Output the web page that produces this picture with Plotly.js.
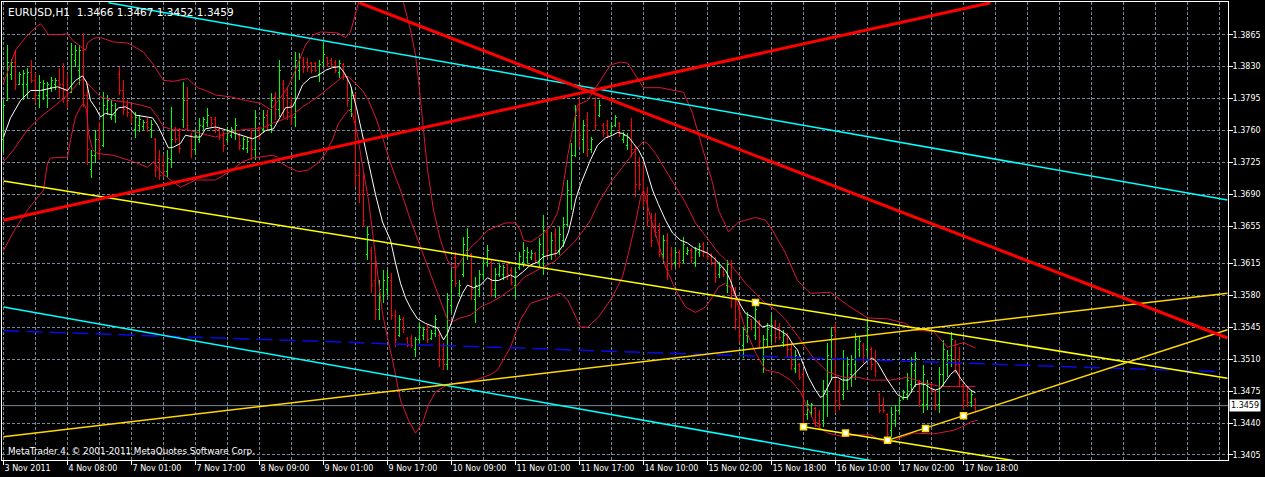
<!DOCTYPE html>
<html><head><meta charset="utf-8">
<script src="https://cdn.plot.ly/plotly-3.0.1.min.js"></script>
<style>html,body{margin:0;padding:0;background:#000;}#chart{width:1265px;height:477px;}
.trace.ohlc path{shape-rendering:crispEdges;}
</style>
</head><body><div id="chart"></div>
<script>
const symbol = 'EURUSD';
const timeframe = 'H1';
const copyright = 'MetaTrader 4, \u00a9 2001-2011 MetaQuotes Software Corp.';
const timeLabels = ['3 Nov 2011','4 Nov 08:00','7 Nov 01:00','7 Nov 17:00','8 Nov 09:00','9 Nov 01:00','9 Nov 17:00','10 Nov 09:00','11 Nov 01:00','11 Nov 17:00','14 Nov 10:00','15 Nov 02:00','15 Nov 18:00','16 Nov 10:00','17 Nov 02:00','17 Nov 18:00'];
const priceTicks = [1.3865,1.3830,1.3795,1.3760,1.3725,1.3690,1.3655,1.3615,1.3580,1.3545,1.3510,1.3475,1.3440,1.3405];

const opens = [1.3750,1.3793,1.3821,1.3835,1.3810,1.3810,1.3810,1.3824,1.3815,1.3799,1.3804,1.3799,1.3807,1.3810,1.3815,1.3810,1.3804,1.3802,1.3837,1.3826,
1.3848,1.3799,1.3717,1.3733,1.3750,1.3744,1.3783,1.3774,1.3777,1.3821,1.3804,1.3788,1.3783,1.3761,1.3766,1.3764,1.3769,1.3761,1.3750,1.3728,
1.3722,1.3715,1.3728,1.3761,1.3755,1.3772,1.3793,1.3755,1.3739,1.3750,1.3764,1.3769,1.3774,1.3772,1.3761,1.3755,1.3750,1.3755,1.3757,1.3755,
1.3741,1.3741,1.3752,1.3739,1.3763,1.3761,1.3777,1.3766,1.3796,1.3783,1.3810,1.3799,1.3788,1.3774,1.3826,1.3837,1.3835,1.3833,1.3833,1.3821,
1.3835,1.3840,1.3837,1.3835,1.3824,1.3832,1.3818,1.3783,1.3799,1.3711,1.3695,1.3624,1.3629,1.3596,1.3564,1.3580,1.3586,1.3596,1.3558,1.3536,
1.3553,1.3533,1.3533,1.3520,1.3531,1.3536,1.3542,1.3533,1.3538,1.3536,1.3520,1.3504,1.3569,1.3621,1.3582,1.3602,1.3629,1.3624,1.3575,1.3586,
1.3602,1.3616,1.3616,1.3586,1.3602,1.3602,1.3613,1.3607,1.3591,1.3610,1.3616,1.3621,1.3621,1.3625,1.3616,1.3624,1.3649,1.3624,1.3646,1.3629,
1.3640,1.3657,1.3690,1.3733,1.3783,1.3750,1.3772,1.3739,1.3788,1.3777,1.3766,1.3766,1.3757,1.3766,1.3768,1.3750,1.3744,1.3766,1.3739,1.3722,
1.3706,1.3690,1.3664,1.3662,1.3651,1.3624,1.3640,1.3624,1.3616,1.3627,1.3618,1.3626,1.3629,1.3616,1.3627,1.3635,1.3627,1.3624,1.3616,1.3602,
1.3610,1.3591,1.3613,1.3580,1.3564,1.3525,1.3536,1.3553,1.3536,1.3551,1.3509,1.3531,1.3536,1.3547,1.3542,1.3528,1.3536,1.3520,1.3500,1.3504,
1.3493,1.3449,1.3452,1.3456,1.3449,1.3443,1.3471,1.3509,1.3542,1.3476,1.3471,1.3487,1.3493,1.3504,1.3520,1.3525,1.3520,1.3520,1.3509,1.3471,
1.3460,1.3449,1.3432,1.3443,1.3454,1.3467,1.3471,1.3482,1.3498,1.3484,1.3460,1.3460,1.3482,1.3474,1.3460,1.3493,1.3504,1.3514,1.3525,1.3504,
1.3482,1.3471,1.3462,1.3466];
const highs = [1.3793,1.3854,1.3838,1.3848,1.3824,1.3826,1.3829,1.3837,1.3823,1.3821,1.3815,1.3813,1.3819,1.3818,1.3829,1.3834,1.3823,1.3856,1.3854,1.3854,
1.3867,1.3812,1.3739,1.3761,1.3769,1.3802,1.3799,1.3793,1.3790,1.3830,1.3815,1.3793,1.3788,1.3780,1.3777,1.3772,1.3774,1.3772,1.3752,1.3739,
1.3733,1.3739,1.3786,1.3764,1.3763,1.3813,1.3808,1.3757,1.3761,1.3774,1.3775,1.3785,1.3775,1.3775,1.3764,1.3761,1.3764,1.3764,1.3774,1.3757,
1.3753,1.3753,1.3761,1.3783,1.3764,1.3783,1.3783,1.3801,1.3802,1.3837,1.3815,1.3808,1.3797,1.3846,1.3845,1.3841,1.3840,1.3835,1.3835,1.3837,
1.3857,1.3841,1.3840,1.3837,1.3837,1.3834,1.3819,1.3808,1.3801,1.3725,1.3714,1.3655,1.3633,1.3622,1.3596,1.3607,1.3607,1.3604,1.3564,1.3558,
1.3556,1.3534,1.3536,1.3534,1.3549,1.3545,1.3547,1.3542,1.3558,1.3538,1.3528,1.3582,1.3607,1.3627,1.3596,1.3644,1.3653,1.3626,1.3600,1.3607,
1.3621,1.3635,1.3618,1.3610,1.3615,1.3613,1.3616,1.3611,1.3611,1.3627,1.3638,1.3633,1.3629,1.3627,1.3643,1.3668,1.3655,1.3649,1.3653,1.3655,
1.3665,1.3706,1.3746,1.3788,1.3796,1.3772,1.3780,1.3753,1.3797,1.3793,1.3768,1.3772,1.3768,1.3777,1.3769,1.3758,1.3757,1.3774,1.3742,1.3731,
1.3725,1.3698,1.3670,1.3670,1.3659,1.3646,1.3648,1.3633,1.3633,1.3629,1.3644,1.3633,1.3632,1.3633,1.3637,1.3638,1.3629,1.3626,1.3622,1.3616,
1.3611,1.3618,1.3618,1.3589,1.3578,1.3545,1.3561,1.3553,1.3572,1.3553,1.3536,1.3549,1.3558,1.3553,1.3549,1.3542,1.3538,1.3528,1.3520,1.3506,
1.3498,1.3465,1.3462,1.3457,1.3454,1.3487,1.3528,1.3545,1.3549,1.3487,1.3520,1.3512,1.3514,1.3538,1.3534,1.3528,1.3553,1.3523,1.3520,1.3473,
1.3468,1.3451,1.3457,1.3460,1.3468,1.3476,1.3495,1.3512,1.3518,1.3487,1.3504,1.3487,1.3484,1.3476,1.3501,1.3531,1.3520,1.3540,1.3531,1.3523,
1.3484,1.3479,1.3476,1.3467];
const lows = [1.3737,1.3793,1.3815,1.3804,1.3810,1.3793,1.3796,1.3812,1.3790,1.3785,1.3793,1.3785,1.3802,1.3804,1.3796,1.3790,1.3785,1.3802,1.3830,1.3810,
1.3786,1.3722,1.3708,1.3725,1.3728,1.3742,1.3777,1.3772,1.3768,1.3799,1.3777,1.3775,1.3768,1.3752,1.3758,1.3761,1.3758,1.3752,1.3709,1.3706,
1.3709,1.3709,1.3719,1.3746,1.3735,1.3763,1.3761,1.3730,1.3733,1.3746,1.3761,1.3764,1.3764,1.3757,1.3750,1.3737,1.3746,1.3752,1.3750,1.3739,
1.3739,1.3735,1.3728,1.3728,1.3750,1.3757,1.3761,1.3757,1.3772,1.3775,1.3774,1.3772,1.3766,1.3764,1.3815,1.3823,1.3824,1.3823,1.3824,1.3813,
1.3830,1.3830,1.3830,1.3823,1.3818,1.3815,1.3786,1.3775,1.3698,1.3681,1.3655,1.3618,1.3582,1.3553,1.3553,1.3571,1.3578,1.3553,1.3523,1.3534,
1.3538,1.3523,1.3522,1.3512,1.3528,1.3531,1.3528,1.3531,1.3534,1.3501,1.3498,1.3498,1.3560,1.3589,1.3578,1.3600,1.3618,1.3575,1.3549,1.3578,
1.3596,1.3611,1.3578,1.3577,1.3600,1.3596,1.3596,1.3591,1.3577,1.3607,1.3611,1.3615,1.3618,1.3615,1.3611,1.3602,1.3622,1.3618,1.3622,1.3624,
1.3633,1.3655,1.3673,1.3731,1.3742,1.3735,1.3731,1.3735,1.3761,1.3775,1.3753,1.3752,1.3755,1.3764,1.3753,1.3746,1.3739,1.3731,1.3687,1.3695,
1.3676,1.3655,1.3633,1.3644,1.3622,1.3615,1.3596,1.3607,1.3611,1.3610,1.3615,1.3624,1.3615,1.3611,1.3622,1.3622,1.3618,1.3613,1.3593,1.3599,
1.3600,1.3582,1.3566,1.3542,1.3528,1.3511,1.3528,1.3542,1.3531,1.3522,1.3495,1.3523,1.3528,1.3528,1.3531,1.3523,1.3512,1.3498,1.3495,1.3487,
1.3436,1.3443,1.3447,1.3436,1.3432,1.3436,1.3447,1.3487,1.3451,1.3454,1.3465,1.3476,1.3479,1.3487,1.3512,1.3506,1.3512,1.3498,1.3490,1.3451,
1.3451,1.3421,1.3425,1.3436,1.3451,1.3465,1.3465,1.3473,1.3479,1.3457,1.3451,1.3454,1.3473,1.3454,1.3451,1.3479,1.3490,1.3501,1.3495,1.3479,
1.3454,1.3457,1.3457,1.3452];
const closes = [1.3788,1.3835,1.3835,1.3810,1.3821,1.3823,1.3824,1.3815,1.3799,1.3813,1.3812,1.3810,1.3815,1.3815,1.3810,1.3804,1.3793,1.3843,1.3848,1.3848,
1.3799,1.3739,1.3733,1.3750,1.3739,1.3788,1.3793,1.3788,1.3783,1.3804,1.3783,1.3780,1.3774,1.3774,1.3772,1.3769,1.3763,1.3767,1.3717,1.3711,
1.3715,1.3730,1.3750,1.3750,1.3741,1.3793,1.3766,1.3739,1.3755,1.3766,1.3772,1.3777,1.3768,1.3761,1.3753,1.3744,1.3757,1.3761,1.3766,1.3744,
1.3750,1.3748,1.3739,1.3774,1.3755,1.3774,1.3766,1.3793,1.3783,1.3826,1.3783,1.3780,1.3774,1.3837,1.3840,1.3829,1.3829,1.3826,1.3826,1.3832,
1.3843,1.3833,1.3832,1.3826,1.3834,1.3821,1.3793,1.3799,1.3711,1.3690,1.3662,1.3646,1.3591,1.3564,1.3586,1.3596,1.3599,1.3558,1.3531,1.3553,
1.3542,1.3525,1.3525,1.3531,1.3544,1.3542,1.3531,1.3538,1.3553,1.3509,1.3504,1.3575,1.3596,1.3593,1.3591,1.3635,1.3643,1.3586,1.3591,1.3602,
1.3615,1.3629,1.3586,1.3602,1.3611,1.3610,1.3602,1.3594,1.3605,1.3622,1.3629,1.3627,1.3626,1.3618,1.3635,1.3651,1.3629,1.3640,1.3629,1.3646,
1.3657,1.3695,1.3733,1.3777,1.3755,1.3766,1.3739,1.3750,1.3766,1.3788,1.3757,1.3755,1.3764,1.3774,1.3757,1.3755,1.3753,1.3739,1.3701,1.3701,
1.3684,1.3662,1.3640,1.3649,1.3629,1.3640,1.3607,1.3613,1.3627,1.3616,1.3635,1.3629,1.3621,1.3629,1.3633,1.3627,1.3622,1.3616,1.3599,1.3610,
1.3602,1.3613,1.3575,1.3553,1.3536,1.3542,1.3555,1.3545,1.3564,1.3529,1.3531,1.3542,1.3547,1.3534,1.3534,1.3536,1.3520,1.3504,1.3514,1.3490,
1.3449,1.3460,1.3460,1.3441,1.3438,1.3476,1.3514,1.3536,1.3465,1.3460,1.3509,1.3504,1.3509,1.3531,1.3529,1.3514,1.3542,1.3504,1.3496,1.3454,
1.3454,1.3427,1.3449,1.3454,1.3465,1.3473,1.3487,1.3504,1.3511,1.3465,1.3493,1.3482,1.3476,1.3460,1.3493,1.3520,1.3514,1.3531,1.3504,1.3487,
1.3465,1.3462,1.3471,1.3459];

// short moving average (white)
const maBar = [0,1.75,4.25,6.75,9.25,11.75,13.5,16,18,19.75,20.75,21.75,23,24.25,25.5,27.25,28.75,30.5,31.75,33,35.5,37.25,38.5,40,41.25,42.5,44.25,45.5,47.5,49.25,50.5,53,55.5,58,60.5,62.25,63.75,65.5,67.5,68.75,70.5,72.25,73.5,74.75,76.75,78.5,80.5,82.25,84,85.25,86.75,88.25,89.75,91.25,93,94.75,96.75,98,99.25,100.5,101.75,103.5,105.5,107.25,108.5,110,111,112.25,113.5,114.75,116,117.5,119.25,121,122.25,123.75,125.5,126.75,128,129.75,131.75,133.5,135,136.75,138.5,140,141.25,142.25,143,144.25,145.5,146.75,148.5,150.5,152.25,153.5,154.75,156.25,157.5,158.75,160,161.25,162.25,163.75,165.5,167.25,169.25,171,172.5,174.25,176,177.5,179.25,180.5,181.75,183,184.25,185.5,187.25,188.5,189.75,191.25,193,194.25,196,197.5,198.5,199.75,201.25,203,204.25,205,206.25,207.25,208.5,209.75,211.25,212.5,213.75,215,216.25,217.25,218.5,219.75,221,222.25,223.5,224.75,226,226.75,228,229.25,230.5,231.75,233,234.25,235.5,236.75,238,239.25,240.5,241.75,243];
const maPrice = [1.3753,1.3774,1.3793,1.3804,1.3804,1.3806,1.3808,1.3804,1.3815,1.3820,1.3813,1.3793,1.3785,1.3775,1.3779,1.3777,1.3785,1.3786,1.3783,1.3777,1.3775,1.3774,1.3766,1.3752,1.3741,1.3742,1.3746,1.3755,1.3753,1.3753,1.3762,1.3764,1.3761,1.3757,1.3753,1.3751,1.3754,1.3760,1.3762,1.3772,1.3785,1.3786,1.3797,1.3810,1.3818,1.3820,1.3826,1.3829,1.3830,1.3823,1.3810,1.3785,1.3755,1.3722,1.3690,1.3660,1.3640,1.3615,1.3593,1.3577,1.3566,1.3554,1.3549,1.3546,1.3544,1.3531,1.3538,1.3553,1.3569,1.3582,1.3591,1.3588,1.3591,1.3599,1.3596,1.3596,1.3600,1.3602,1.3599,1.3605,1.3613,1.3616,1.3622,1.3624,1.3626,1.3635,1.3649,1.3668,1.3684,1.3701,1.3714,1.3728,1.3744,1.3752,1.3755,1.3758,1.3757,1.3753,1.3746,1.3739,1.3728,1.3711,1.3695,1.3679,1.3662,1.3648,1.3640,1.3637,1.3632,1.3629,1.3626,1.3621,1.3613,1.3607,1.3596,1.3580,1.3569,1.3560,1.3556,1.3551,1.3545,1.3547,1.3544,1.3541,1.3536,1.3525,1.3520,1.3506,1.3490,1.3476,1.3468,1.3470,1.3482,1.3490,1.3490,1.3487,1.3487,1.3493,1.3498,1.3504,1.3509,1.3511,1.3506,1.3496,1.3487,1.3479,1.3471,1.3468,1.3468,1.3473,1.3482,1.3483,1.3482,1.3478,1.3476,1.3478,1.3485,1.3493,1.3498,1.3489,1.3482,1.3476,1.3473];

// Bollinger bands (crimson)
const bbUpperBar = [0,3,5.5,8,9.25,10,11.25,13.75,16,17.25,19.25,20.5,21,22.5,24.25,27.5,31,35,37.5,40,42.5,46,48.5,50.5,53,56.75,60.5,64.25,66.75,68.75,71,72.25,73.5,75.5,77.5,79.25,83.5,85.5,86.75,88,89.25,92.25,95.5,98,100,101.75,103,103.75,104.75,106,107.5,109.25,111,112.25,113.5,115,116.75,118.75,121,123.5,125.5,128,129.25,130,131.75,133.5,135,136.75,138.5,139.75,141,142.25,143.5,146,149.25,151.75,154.25,156,157.5,160,164.25,170,172.25,174.75,177.25,178.75,181.25,183.75,188,190.5,192.25,195.5,198.5,201.75,206.75,211,216,221,225.5,227.5,232.5,236,240,243];
const bbUpper = [1.3812,1.3848,1.3862,1.3873,1.3877,1.3873,1.3865,1.3865,1.3866,1.3859,1.3852,1.3848,1.3856,1.3861,1.3862,1.3857,1.3856,1.3846,1.3832,1.3815,1.3814,1.3817,1.3807,1.3804,1.3799,1.3797,1.3793,1.3790,1.3783,1.3793,1.3807,1.3818,1.3832,1.3854,1.3865,1.3868,1.3867,1.3862,1.3868,1.3887,1.3908,1.3969,1.4002,1.3947,1.3900,1.3870,1.3843,1.3815,1.3772,1.3717,1.3673,1.3640,1.3618,1.3610,1.3611,1.3622,1.3632,1.3640,1.3651,1.3655,1.3659,1.3659,1.3651,1.3640,1.3638,1.3643,1.3648,1.3655,1.3670,1.3695,1.3731,1.3761,1.3788,1.3793,1.3815,1.3832,1.3835,1.3834,1.3824,1.3807,1.3807,1.3802,1.3779,1.3742,1.3703,1.3673,1.3649,1.3660,1.3665,1.3662,1.3651,1.3626,1.3596,1.3582,1.3583,1.3569,1.3555,1.3554,1.3549,1.3542,1.3540,1.3523,1.3528,1.3522];
const bbMiddleBar = [0,2.5,6,9.25,12.5,16,19.25,20,21.75,24.25,27.5,31,34.25,36.75,38.5,40,42.5,46,49.25,53,56.25,59.75,64.75,67.25,69.75,72.25,74.75,77.25,79.75,82.25,84.75,86.25,88,89.75,91.25,93,94.75,96.25,98,99.25,101.75,104.25,106.75,109.25,111,112.25,114.25,116.75,119.25,121.75,124.25,126.75,128.5,130,132.5,135,137.5,140,142.5,145,146.75,148.75,152.25,154.75,158,160,161,163,165.5,168,170.5,173,176.25,178.75,182.25,185.5,188,190.5,193,195.5,199.25,202.5,206,210,213.5,216.75,221.75,226,230,234.25,239.25,243];
const bbMiddle = [1.3726,1.3739,1.3761,1.3775,1.3786,1.3799,1.3815,1.3817,1.3808,1.3797,1.3793,1.3791,1.3788,1.3785,1.3775,1.3764,1.3761,1.3761,1.3757,1.3753,1.3758,1.3761,1.3763,1.3768,1.3772,1.3777,1.3786,1.3793,1.3801,1.3810,1.3819,1.3819,1.3812,1.3804,1.3793,1.3775,1.3753,1.3731,1.3709,1.3695,1.3662,1.3633,1.3604,1.3575,1.3553,1.3551,1.3555,1.3558,1.3567,1.3572,1.3578,1.3586,1.3591,1.3599,1.3605,1.3611,1.3616,1.3626,1.3637,1.3651,1.3662,1.3681,1.3706,1.3720,1.3739,1.3748,1.3746,1.3735,1.3717,1.3698,1.3681,1.3659,1.3640,1.3626,1.3611,1.3593,1.3582,1.3571,1.3564,1.3553,1.3531,1.3511,1.3496,1.3490,1.3490,1.3487,1.3487,1.3490,1.3484,1.3480,1.3480,1.3480];
const bbLowerBar = [0,3,6,8.5,10,11,11.75,16,16.75,18,19.25,20,20.75,21.25,22.25,23.5,27.5,32.5,36,37.5,39.25,41.75,44.25,48,53,57.25,59.75,62.25,67.25,68.5,69.25,71.25,73.75,76.25,78.75,80.5,82.25,83.75,85.5,86.25,87.25,88.5,89.75,91.25,92.5,93.75,94.75,96.25,97.25,99.25,101.25,103,104.75,106.25,108,111,114.25,118,121.75,123.5,126.75,129.25,131.75,136.75,139.25,141,144.25,146,148.75,152.25,154.75,156.25,158,159.25,160,161.75,165.5,168,170.5,173,175.5,177.25,178.75,180.5,182.25,183.75,185.5,188,190.5,193.75,196.75,199.25,201.25,203,206,210,213.5,216.75,219.25,221.75,224.25,227.5,232.5,237.5,239.75,241.75,243.5];
const bbLower = [1.3629,1.3653,1.3673,1.3687,1.3695,1.3725,1.3730,1.3731,1.3750,1.3775,1.3786,1.3790,1.3783,1.3757,1.3739,1.3735,1.3733,1.3726,1.3720,1.3726,1.3715,1.3706,1.3698,1.3706,1.3706,1.3717,1.3726,1.3730,1.3733,1.3731,1.3725,1.3720,1.3715,1.3717,1.3725,1.3735,1.3750,1.3768,1.3779,1.3783,1.3779,1.3755,1.3722,1.3684,1.3640,1.3596,1.3560,1.3528,1.3509,1.3465,1.3443,1.3429,1.3440,1.3460,1.3474,1.3482,1.3484,1.3487,1.3493,1.3498,1.3523,1.3553,1.3571,1.3578,1.3582,1.3575,1.3545,1.3545,1.3556,1.3578,1.3600,1.3626,1.3659,1.3687,1.3695,1.3665,1.3611,1.3586,1.3567,1.3561,1.3567,1.3578,1.3589,1.3593,1.3586,1.3567,1.3542,1.3517,1.3498,1.3495,1.3487,1.3474,1.3454,1.3438,1.3429,1.3425,1.3427,1.3427,1.3421,1.3418,1.3424,1.3429,1.3428,1.3432,1.3436,1.3441,1.3443];

// drawn objects: [bar, price] anchor pairs
const redFallBars = [89, 306], redFallPrices = [1.3900, 1.3533];
const redRiseBars = [0, 246.75], redRisePrices = [1.3662, 1.3900];
const cyanTopBars = [26.25, 306], cyanTopPrices = [1.3900, 1.3684];
const cyanLowBars = [0, 218], cyanLowPrices = [1.3567, 1.3398];
const yellowFallBars = [0, 306], yellowFallPrices = [1.3705, 1.3489];
const yellowFall2Bars = [200, 258], yellowFall2Prices = [1.3436, 1.3395];
const goldRiseBars = [0, 306], goldRisePrices = [1.3425, 1.3582];
const goldRise2Bars = [221, 306], goldRise2Prices = [1.3421, 1.3542];
const blueBars = [0, 304.5], bluePrices = [1.3541, 1.3496];
const anchorBars = [188, 200, 210.5, 221, 230.5, 240];
const anchorPrices = [1.3572, 1.3436, 1.3429, 1.3421, 1.3434, 1.3448];

const barIndex = opens.map((_, i) => i);
const labelBars = timeLabels.map((_, k) => k * 16);
const last = closes.length - 1;
const titleText = symbol + ',' + timeframe + '\u00a0\u00a0' + [opens[last], highs[last], lows[last], closes[last]].map(v => v.toFixed(4)).join(' ');

const FONT = 'DejaVu Sans';
const GRID = '#778899';
function seg(xs, ys, color, width, dash) {
  return {type: 'scatter', mode: 'lines', x: xs, y: ys, hoverinfo: 'skip',
    line: {color: color, width: width, dash: dash || 'solid'}};
}

const traces = [
  {type: 'ohlc', x: barIndex, open: opens, high: highs, low: lows, close: closes,
   increasing: {line: {color: '#00ff00', width: 1}},
   decreasing: {line: {color: '#ff0000', width: 1}},
   tickwidth: 0.3, hoverinfo: 'skip'},
  seg(bbUpperBar, bbUpper, '#dc143c', 1),
  seg(bbMiddleBar, bbMiddle, '#dc143c', 1),
  seg(bbLowerBar, bbLower, '#dc143c', 1),
  seg(maBar, maPrice, '#ffffff', 1),
  seg(blueBars, bluePrices, '#0a0ae6', 1.5, '16px,7px'),
  seg(cyanTopBars, cyanTopPrices, '#00ffff', 1.5),
  seg(cyanLowBars, cyanLowPrices, '#00ffff', 1.5),
  seg(yellowFallBars, yellowFallPrices, '#ffff00', 1.5),
  seg(yellowFall2Bars, yellowFall2Prices, '#ffff00', 1.5),
  seg(goldRiseBars, goldRisePrices, '#ffd700', 1.5),
  seg(goldRise2Bars, goldRise2Prices, '#ffd700', 1.5),
  seg(redFallBars, redFallPrices, '#ff0000', 3),
  seg(redRiseBars, redRisePrices, '#ff0000', 3),
  {type: 'scatter', mode: 'markers', x: anchorBars, y: anchorPrices, hoverinfo: 'skip',
   marker: {symbol: 'square', size: 6, color: '#ffffff', line: {color: '#ffd700', width: 1.5}}}
];

const layout = {
  width: 1265, height: 477,
  paper_bgcolor: '#000000', plot_bgcolor: '#000000',
  margin: {l: 2, r: 37, t: 2, b: 17, pad: 0},
  showlegend: false, hovermode: false,
  font: {family: FONT, size: 8, color: '#ffffff'},
  xaxis: {
    range: [-0.375, 306.125], fixedrange: true,
    tickvals: labelBars, ticktext: timeLabels,
    ticks: 'outside', ticklen: 4, tickcolor: '#ffffff', tickwidth: 1,
    ticklabelposition: 'outside right',
    tickfont: {family: FONT, size: 8, color: '#ffffff'},
    showgrid: true, gridcolor: GRID, griddash: '3px,2px', gridwidth: 1,
    minor: {dtick: 8, tick0: 0, showgrid: true, gridcolor: GRID, griddash: '3px,2px', gridwidth: 1, ticks: ''},
    showline: true, linecolor: '#ffffff', linewidth: 1, mirror: true,
    zeroline: false, rangeslider: {visible: false}
  },
  yaxis: {
    range: [1.33995, 1.39008], fixedrange: true, side: 'right',
    tickvals: priceTicks, ticktext: priceTicks.map(v => v.toFixed(4)),
    ticks: 'outside', ticklen: 4, tickcolor: '#ffffff', tickwidth: 1,
    ticklabelstandoff: -2,
    tickfont: {family: FONT, size: 8, color: '#ffffff'},
    showgrid: true, gridcolor: GRID, griddash: '3px,2px', gridwidth: 1,
    showline: true, linecolor: '#ffffff', linewidth: 1, mirror: true,
    zeroline: false
  },
  shapes: [
    {type: 'line', xref: 'paper', x0: 0, x1: 1, yref: 'y', y0: closes[last], y1: closes[last],
     line: {color: '#778899', width: 1}, layer: 'below'}
  ],
  annotations: [
    {xref: 'paper', yref: 'paper', x: 0, y: 1, xanchor: 'left', yanchor: 'top', xshift: 4, yshift: -2,
     text: titleText, showarrow: false, font: {family: FONT, size: 10.5, color: '#ffffff'}},
    {xref: 'paper', yref: 'paper', x: 0, y: 0, xanchor: 'left', yanchor: 'bottom', xshift: 4, yshift: 2,
     text: copyright, showarrow: false, font: {family: FONT, size: 8.8, color: '#ffffff'}},
    {xref: 'paper', yref: 'y', x: 1, y: closes[last], xanchor: 'left', yanchor: 'middle', xshift: 1,
     text: closes[last].toFixed(4), showarrow: false, bgcolor: '#ffffff', borderpad: 1,
     font: {family: FONT, size: 8, color: '#000000'}}
  ]
};

Plotly.newPlot('chart', traces, layout, {staticPlot: true, displayModeBar: false});
</script>
</body></html>
